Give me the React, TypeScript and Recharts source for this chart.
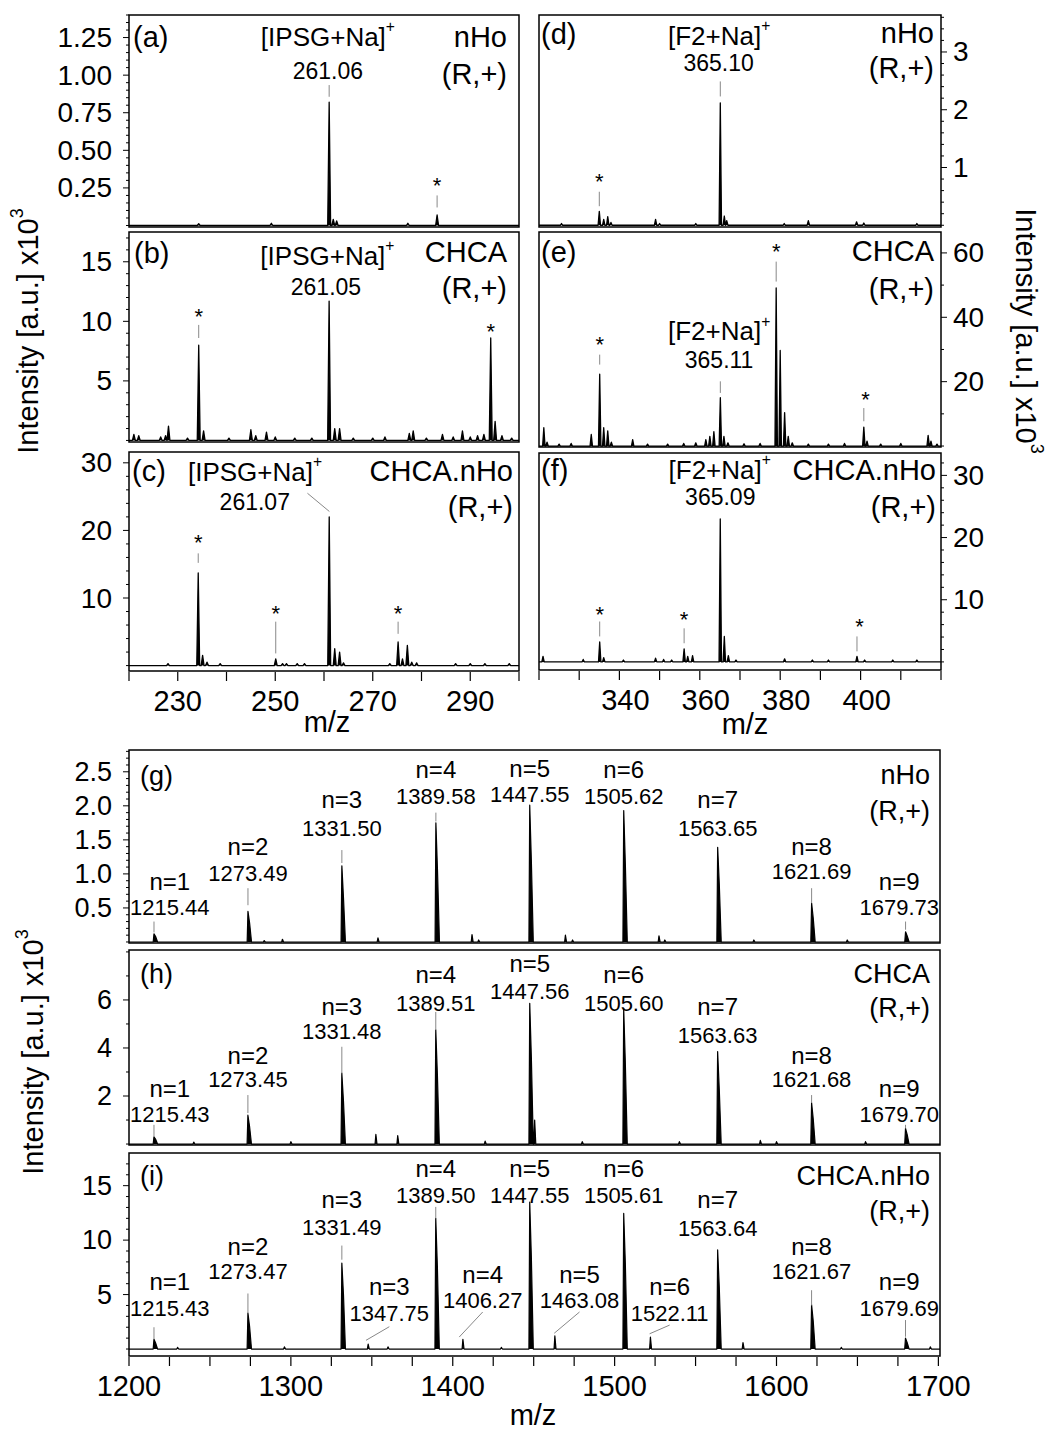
import React from "react";
import { ComposedChart, Area, XAxis, YAxis, ReferenceArea, ReferenceDot, ReferenceLine } from "recharts";

const FONT = "'Liberation Sans', Arial, Helvetica, sans-serif";

// ---- spectra: peak m/z and intensity (x10^3 a.u.) ----

// (a) IPSG, nHo
const aMz = [234.3, 249.2, 261.06, 261.9, 262.6, 277.2, 283.2];
const aInt = [0.012, 0.015, 0.82, 0.04, 0.03, 0.015, 0.07];

// (b) IPSG, CHCA
const bMz = [221.0, 222.0, 226.5, 227.5, 228.1, 232.0, 234.3, 235.3, 240.5, 245.0, 246.0, 248.2, 250.0, 254.0, 257.5, 261.05, 262.2, 263.2, 266.0, 270.0, 272.5, 277.5, 278.3, 281.0, 284.3, 286.5, 288.4, 290.0, 291.5, 292.8, 294.2, 295.1, 296.5, 298.5];
const bInt = [0.5, 0.4, 0.3, 0.4, 1.2, 0.2, 8.0, 0.8, 0.2, 0.9, 0.4, 0.7, 0.3, 0.2, 0.2, 11.7, 1.0, 1.0, 0.2, 0.2, 0.3, 0.6, 0.8, 0.2, 0.5, 0.3, 0.8, 0.3, 0.4, 0.5, 8.6, 1.6, 0.4, 0.2];

// (c) IPSG, CHCA.nHo
const cMz = [228.0, 234.2, 235.1, 236.0, 238.7, 250.1, 251.5, 252.3, 254.5, 256.0, 261.07, 262.2, 263.2, 264.0, 273.5, 275.2, 276.1, 277.1, 278.0, 279.0, 287.0, 290.0, 293.0, 298.0];
const cInt = [0.3, 13.7, 1.5, 0.5, 0.3, 1.0, 0.3, 0.3, 0.3, 0.3, 22.0, 2.5, 2.0, 0.4, 0.3, 3.5, 1.0, 3.0, 0.5, 0.4, 0.3, 0.3, 0.3, 0.3];

// (d) F2, nHo
const dMz = [325.6, 335.0, 336.1, 337.1, 337.9, 349.0, 350.0, 359.0, 365.10, 366.1, 366.7, 381.0, 387.0, 399.0, 400.8, 414.0];
const dInt = [0.03, 0.24, 0.1, 0.15, 0.05, 0.1, 0.03, 0.03, 2.12, 0.16, 0.08, 0.03, 0.08, 0.06, 0.04, 0.03];

// (e) F2, CHCA
const eMz = [321.2, 322.0, 325.0, 328.0, 333.0, 335.1, 336.1, 337.1, 338.0, 343.3, 347.0, 352.0, 356.0, 359.0, 361.5, 362.5, 363.5, 365.11, 366.0, 367.0, 371.0, 375.0, 379.0, 380.0, 381.1, 382.0, 383.0, 387.0, 392.0, 396.0, 400.8, 401.6, 405.0, 410.0, 416.8, 417.5, 419.0];
const eInt = [5.7, 1.2, 0.6, 0.8, 3.6, 22.3, 5.7, 4.7, 1.2, 2.0, 0.6, 0.6, 0.8, 1.0, 2.0, 3.0, 4.5, 15.0, 3.0, 1.0, 0.7, 0.8, 49.1, 29.7, 10.4, 3.0, 1.0, 0.6, 0.6, 0.8, 5.9, 1.5, 0.6, 0.8, 3.3, 1.5, 0.6];

// (f) F2, CHCA.nHo
const fMz = [321.0, 331.0, 335.1, 336.1, 341.0, 349.0, 351.0, 353.0, 356.1, 357.0, 358.2, 365.09, 366.1, 367.1, 369.0, 381.1, 388.0, 392.0, 399.1, 401.0, 408.0, 414.0];
const fInt = [0.9, 0.4, 3.2, 0.7, 0.3, 0.6, 0.4, 0.3, 2.1, 0.9, 1.0, 23.0, 4.1, 1.0, 0.3, 0.5, 0.3, 0.3, 0.9, 0.3, 0.3, 0.3];

// (g)-(i) oligomer series n=1..9 (monoisotopic peak + first isotope shoulder)
const seriesNames = ["n=1", "n=2", "n=3", "n=4", "n=5", "n=6", "n=7", "n=8", "n=9"];

const gMz = [1215.44, 1273.49, 1331.50, 1389.58, 1447.55, 1505.62, 1563.65, 1621.69, 1679.73];
const gInt = [0.12, 0.45, 1.12, 1.75, 2.01, 1.93, 1.39, 0.57, 0.15];
const gIsoMz = [1216.44, 1274.49, 1332.50, 1390.58, 1448.55, 1506.62, 1564.65, 1622.69, 1680.73];
const gIsoInt = [0.08, 0.28, 0.65, 1.05, 1.2, 1.15, 0.85, 0.35, 0.09];
const gMinorMz = [1283.5, 1294.8, 1353.8, 1411.9, 1416.0, 1469.6, 1474.0, 1527.4, 1531.0, 1586.0, 1643.7];
const gMinorInt = [0.02, 0.04, 0.06, 0.11, 0.03, 0.1, 0.03, 0.09, 0.03, 0.03, 0.03];

const hMz = [1215.43, 1273.45, 1331.48, 1389.51, 1447.56, 1505.60, 1563.63, 1621.68, 1679.70];
const hInt = [0.3, 1.2, 2.95, 4.75, 5.86, 5.65, 3.85, 1.72, 0.65];
const hIsoMz = [1216.43, 1274.45, 1332.48, 1390.51, 1448.56, 1506.60, 1564.63, 1622.68, 1680.70];
const hIsoInt = [0.2, 0.75, 1.8, 2.9, 3.6, 3.4, 2.3, 1.05, 0.4];
const hMinorMz = [1240, 1300, 1352.5, 1366.0, 1420, 1450.6, 1480, 1540, 1590, 1600, 1655];
const hMinorInt = [0.08, 0.1, 0.4, 0.35, 0.12, 1.0, 0.1, 0.1, 0.15, 0.1, 0.1];

const iMz = [1215.43, 1273.47, 1331.49, 1389.50, 1447.55, 1505.61, 1563.64, 1621.67, 1679.69];
const iInt = [0.9, 3.3, 7.9, 12.0, 13.5, 12.45, 9.1, 4.05, 1.0];
const iIsoMz = [1216.43, 1274.47, 1332.49, 1390.50, 1448.55, 1506.61, 1564.64, 1622.67, 1680.69];
const iIsoInt = [0.55, 2.1, 5.0, 7.6, 8.5, 7.9, 5.7, 2.6, 0.6];
const iSecMz = [1347.75, 1406.27, 1463.08, 1522.11];
const iSecInt = [0.45, 0.9, 1.2, 1.1];
const iSecNames = ["n=3", "n=4", "n=5", "n=6"];
const iMinorMz = [1230, 1296, 1360, 1430, 1579.3, 1640, 1695];
const iMinorInt = [0.15, 0.2, 0.2, 0.15, 0.6, 0.15, 0.2];

// ---- axis ticks ----
const leftXTicks = [220, 230, 240, 250, 260, 270, 280, 290, 300];
const leftXLabels = [230, 250, 270, 290];
const rightXTicks = [320, 330, 340, 350, 360, 370, 380, 390, 400, 410, 420];
const rightXLabels = [340, 360, 380, 400];
const botXTicks = [1200, 1225, 1250, 1275, 1300, 1325, 1350, 1375, 1400, 1425, 1450, 1475, 1500, 1525, 1550, 1575, 1600, 1625, 1650, 1675, 1700];
const botXLabels = [1200, 1300, 1400, 1500, 1600, 1700];

const aYLabels = [0.25, 0.5, 0.75, 1.0, 1.25];
const bYLabels = [5, 10, 15];
const cYLabels = [10, 20, 30];
const dYLabels = [1, 2, 3];
const eYLabels = [20, 40, 60];
const fYLabels = [10, 20, 30];
const gYLabels = [0.5, 1.0, 1.5, 2.0, 2.5];
const hYLabels = [2, 4, 6];
const iYLabels = [5, 10, 15];

function minorTicks(from: number, to: number, step: number) {
  const out: number[] = [];
  const n = Math.round((to - from) / step);
  for (let i = 0; i <= n; i++) out.push(Math.round((from + i * step) * 1000) / 1000);
  return out;
}

type Pt = { mz: number; v: number };

// stick peaks drawn as narrow triangles on a zero baseline
function profile(mz: number[], inten: number[], hw: number, domain: number[]) {
  const order = mz.map((_, i) => i).sort((p, q) => mz[p] - mz[q]);
  const pts: Pt[] = [{ mz: domain[0], v: 0 }];
  order.forEach((i) => {
    pts.push({ mz: mz[i] - hw, v: 0 }, { mz: mz[i], v: inten[i] }, { mz: mz[i] + hw, v: 0 });
  });
  pts.push({ mz: domain[1], v: 0 });
  return pts;
}

// main peak with its isotope shoulder, plus isolated small peaks
function profileIso(mz: number[], inten: number[], isoMz: number[], isoInt: number[], exMz: number[], exInt: number[], domain: number[]) {
  const shapes: Pt[][] = [];
  mz.forEach((m, i) => {
    shapes.push([
      { mz: m - 0.5, v: 0 },
      { mz: m, v: inten[i] },
      { mz: isoMz[i], v: isoInt[i] },
      { mz: isoMz[i] + 1.2, v: 0 },
    ]);
  });
  exMz.forEach((m, i) => {
    shapes.push([
      { mz: m - 0.5, v: 0 },
      { mz: m, v: exInt[i] },
      { mz: m + 0.7, v: 0 },
    ]);
  });
  shapes.sort((p, q) => p[0].mz - q[0].mz);
  const pts: Pt[] = [{ mz: domain[0], v: 0 }];
  shapes.forEach((s) => pts.push(...s));
  pts.push({ mz: domain[1], v: 0 });
  return pts;
}

type Txt = { x: number; y: number; t: string; fs: number; sup?: string; star?: boolean };
type Seg = { x1: number; y1: number; x2: number; y2: number };
const T = (x: number, y: number, t: string, fs: number, sup?: string): Txt => ({ x, y, t, fs, sup });
const S = (x: number, y: number): Txt => ({ x, y, t: "*", fs: 22, star: true });
const L = (x1: number, y1: number, x2: number, y2: number): Seg => ({ x1, y1, x2, y2 });

// label block for oligomer series: name above m/z value
function seriesLabels(cx: number[], names: string[], vals: number[], nY: number[], vY: number[]) {
  const out: Txt[] = [];
  cx.forEach((x, i) => {
    out.push(T(x, nY[i], names[i], 24));
    out.push(T(x, vY[i], vals[i].toFixed(2), 22));
  });
  return out;
}

function PeakLabel(props: any) {
  const { cx, cy, t, fs, sup, star } = props;
  if (cx == null || cy == null) return <g />;
  if (star) {
    return (
      <text x={cx} y={cy + fs * 0.57} textAnchor="middle" fontSize={fs} fill="#000" fontFamily={FONT}>
        *
      </text>
    );
  }
  return (
    <text x={cx} y={cy} textAnchor="middle" dominantBaseline="central" fontSize={fs} fill="#000" fontFamily={FONT}>
      {t}
      {sup && (
        <tspan dy={-fs * 0.42} fontSize={fs * 0.6}>
          {sup}
        </tspan>
      )}
    </text>
  );
}

function YTick(props: any) {
  const { x, y, payload, labels, right, fmt, fs } = props;
  const v = payload.value;
  const major = labels.some((l: number) => Math.abs(l - v) < 1e-6);
  const len = major ? 6 : 3;
  const d = right ? 1 : -1;
  return (
    <g>
      <line x1={x} y1={y} x2={x + d * len} y2={y} stroke="#000" strokeWidth={1} />
      {major && (
        <text
          x={right ? x + 12 : x - 17}
          y={y}
          textAnchor={right ? "start" : "end"}
          dominantBaseline="central"
          fontSize={fs}
          fill="#000"
          fontFamily={FONT}
        >
          {fmt(v)}
        </text>
      )}
    </g>
  );
}

function XTick(props: any) {
  const { x, y, payload, labels, show, dx } = props;
  if (!show) return <g />;
  const v = payload.value;
  const lab = labels.some((l: number) => Math.abs(l - v) < 1e-6);
  return (
    <g>
      <line x1={x} y1={y + 1} x2={x} y2={y + 10} stroke="#000" strokeWidth={1.2} />
      {lab && (
        <text x={x + dx} y={y + 30} textAnchor="middle" dominantBaseline="central" fontSize={29} fill="#000" fontFamily={FONT}>
          {v}
        </text>
      )}
    </g>
  );
}

type PanelProps = {
  id: string;
  box: { x: number; y: number; w: number; h: number };
  xDomain: number[];
  yDomain: number[];
  data: Pt[];
  xTicks: number[];
  xLabels: number[];
  showX: boolean;
  xDx?: number;
  yTicks: number[];
  yLabels: number[];
  yFmt: (v: number) => string;
  yRight?: boolean;
  yFs: number;
  texts: Txt[];
  segs: Seg[];
  lineW?: number;
};

function Panel(p: PanelProps) {
  const PADL = 130, PADR = 90, PADT = 10, PADB = 70;
  const W = p.box.w + PADL + PADR;
  const H = p.box.h + PADT + PADB;
  return (
    <div style={{ position: "absolute", left: p.box.x - PADL, top: p.box.y - PADT }}>
      <ComposedChart
        width={W}
        height={H}
        data={p.data}
        margin={{ top: PADT, bottom: 0, left: p.yRight ? PADL : 0, right: p.yRight ? 0 : PADR }}
      >
        <XAxis
          dataKey="mz"
          type="number"
          domain={p.xDomain}
          allowDataOverflow
          ticks={p.xTicks}
          interval={0}
          height={PADB}
          axisLine={false}
          tickLine={false}
          tickSize={0}
          tickMargin={0}
          tick={(tp: any) => <XTick {...tp} labels={p.xLabels} show={p.showX} dx={p.xDx ?? 0} />}
        />
        <YAxis
          type="number"
          domain={p.yDomain}
          allowDataOverflow
          orientation={p.yRight ? "right" : "left"}
          width={p.yRight ? PADR : PADL}
          ticks={p.yTicks}
          interval={0}
          axisLine={false}
          tickLine={false}
          tickSize={0}
          tickMargin={0}
          tick={(tp: any) => <YTick {...tp} labels={p.yLabels} right={p.yRight} fmt={p.yFmt} fs={p.yFs} />}
        />
        <Area
          dataKey="v"
          type="linear"
          baseValue={0}
          dot={false}
          activeDot={false}
          stroke="#000"
          strokeWidth={p.lineW ?? 1.3}
          strokeLinejoin="round"
          fill="#000"
          fillOpacity={1}
          isAnimationActive={false}
        />
        <ReferenceArea
          x1={p.xDomain[0]}
          x2={p.xDomain[1]}
          y1={p.yDomain[0]}
          y2={p.yDomain[1]}
          fill="none"
          fillOpacity={0}
          stroke="#000"
          strokeWidth={1.5}
        />
        {p.segs.map((s, i) => (
          <ReferenceLine
            key={"s" + i}
            segment={[
              { x: s.x1, y: s.y1 },
              { x: s.x2, y: s.y2 },
            ]}
            stroke="#888"
            strokeWidth={1}
          />
        ))}
        {p.texts.map((t, i) => (
          <ReferenceDot
            key={"t" + i}
            x={t.x}
            y={t.y}
            r={0}
            shape={(dp: any) => <PeakLabel cx={dp.cx} cy={dp.cy} {...t} />}
          />
        ))}
      </ComposedChart>
    </div>
  );
}

const LEFT_X = [220, 300];
const RIGHT_X = [320, 420];
const BOT_X = [1200, 1701];
const int0 = (v: number) => String(v);

const panels: PanelProps[] = [
  {
    id: "a",
    box: { x: 129, y: 15, w: 390, h: 212 },
    xDomain: LEFT_X,
    yDomain: [-0.01, 1.4],
    data: profile(aMz, aInt, 0.3, LEFT_X),
    xTicks: leftXTicks, xLabels: leftXLabels, showX: false,
    yTicks: minorTicks(0, 1.4, 0.05), yLabels: aYLabels, yFmt: (v) => v.toFixed(2), yFs: 28,
    texts: [T(260.8, 1.253, "[IPSG+Na]", 26, "+"), T(260.8, 1.027, "261.06", 23), S(283.2, 0.3)],
    segs: [L(261.06, 0.934, 261.06, 0.856), L(283.2, 0.2, 283.2, 0.12)],
  },
  {
    id: "b",
    box: { x: 129, y: 232, w: 390, h: 210 },
    xDomain: LEFT_X,
    yDomain: [-0.13, 17.5],
    data: profile(bMz, bInt, 0.3, LEFT_X),
    xTicks: leftXTicks, xLabels: leftXLabels, showX: false,
    yTicks: minorTicks(0, 17, 1), yLabels: bYLabels, yFmt: int0, yFs: 28,
    texts: [T(260.7, 15.45, "[IPSG+Na]", 26, "+"), T(260.4, 12.9, "261.05", 23), S(234.3, 10.8), S(294.2, 9.6)],
    segs: [L(234.3, 9.7, 234.3, 8.6)],
  },
  {
    id: "c",
    box: { x: 129, y: 452, w: 390, h: 219 },
    xDomain: LEFT_X,
    yDomain: [-0.8, 31.6],
    data: profile(cMz, cInt, 0.3, LEFT_X),
    xTicks: leftXTicks, xLabels: leftXLabels, showX: true,
    yTicks: minorTicks(0, 30, 2), yLabels: cYLabels, yFmt: int0, yFs: 28,
    texts: [
      T(245.85, 28.7, "[IPSG+Na]", 26, "+"),
      T(245.8, 24.2, "261.07", 23),
      S(234.2, 19.0),
      S(250.1, 8.4),
      S(275.2, 8.4),
    ],
    segs: [L(256.6, 25.5, 261.1, 22.8), L(234.2, 16.6, 234.2, 15.2), L(250.1, 6.5, 250.1, 1.8), L(275.2, 6.5, 275.2, 4.7)],
  },
  {
    id: "d",
    box: { x: 539, y: 15, w: 402, h: 212 },
    xDomain: RIGHT_X,
    yDomain: [-0.03, 3.64],
    data: profile(dMz, dInt, 0.3, RIGHT_X),
    xTicks: rightXTicks, xLabels: rightXLabels, showX: false,
    yTicks: minorTicks(0, 3.6, 0.2), yLabels: dYLabels, yFmt: int0, yRight: true, yFs: 28,
    texts: [T(364.8, 3.27, "[F2+Na]", 26, "+"), T(364.7, 2.81, "365.10", 23), S(335.0, 0.84)],
    segs: [L(365.1, 2.49, 365.1, 2.23), L(335.0, 0.58, 335.0, 0.33)],
  },
  {
    id: "e",
    box: { x: 539, y: 232, w: 402, h: 215 },
    xDomain: RIGHT_X,
    yDomain: [-0.3, 66.5],
    data: profile(eMz, eInt, 0.3, RIGHT_X),
    xTicks: rightXTicks, xLabels: rightXLabels, showX: false,
    yTicks: minorTicks(0, 60, 10), yLabels: eYLabels, yFmt: int0, yRight: true, yFs: 28,
    texts: [
      T(364.8, 35.6, "[F2+Na]", 26, "+"),
      T(364.8, 26.8, "365.11", 23),
      S(335.1, 33.0),
      S(379.0, 62.0),
      S(401.2, 16.0),
    ],
    segs: [L(365.11, 20.1, 365.11, 16.5), L(335.1, 28.4, 335.1, 25.3), L(379.0, 57.3, 379.0, 51.1), L(400.8, 11.8, 400.8, 7.7)],
  },
  {
    id: "f",
    box: { x: 539, y: 453, w: 402, h: 217 },
    xDomain: RIGHT_X,
    yDomain: [-1.3, 33.6],
    data: profile(fMz, fInt, 0.3, RIGHT_X),
    xTicks: rightXTicks, xLabels: rightXLabels, showX: true, xDx: 6,
    yTicks: minorTicks(0, 32, 2), yLabels: fYLabels, yFmt: int0, yRight: true, yFs: 28,
    texts: [
      T(364.95, 30.9, "[F2+Na]", 26, "+"),
      T(365.1, 26.6, "365.09", 23),
      S(335.1, 8.4),
      S(356.1, 7.6),
      S(399.75, 6.5),
    ],
    segs: [L(335.1, 6.5, 335.1, 4.1), L(356.1, 5.4, 356.1, 3.0), L(399.1, 4.1, 399.1, 1.7)],
  },
  {
    id: "g",
    box: { x: 129, y: 750, w: 811, h: 193 },
    xDomain: BOT_X,
    yDomain: [-0.015, 2.82],
    data: profileIso(gMz, gInt, gIsoMz, gIsoInt, gMinorMz, gMinorInt, BOT_X),
    xTicks: botXTicks, xLabels: botXLabels, showX: false,
    yTicks: minorTicks(0, 2.8, 0.1), yLabels: gYLabels, yFmt: (v) => v.toFixed(1), yFs: 27,
    lineW: 1.2,
    texts: seriesLabels(
      [1225.2, 1273.49, 1331.5, 1389.58, 1447.55, 1505.62, 1563.65, 1621.69, 1675.8],
      seriesNames,
      gMz,
      [0.89, 1.4, 2.09, 2.53, 2.55, 2.53, 2.09, 1.4, 0.89],
      [0.5, 1.01, 1.67, 2.14, 2.16, 2.14, 1.67, 1.03, 0.5]
    ),
    segs: [
      L(1215.44, 0.3, 1215.44, 0.14),
      L(1273.49, 0.79, 1273.49, 0.54),
      L(1331.5, 1.35, 1331.5, 1.16),
      L(1389.58, 1.9, 1389.58, 1.77),
      L(1621.69, 0.79, 1621.69, 0.57),
      L(1679.73, 0.3, 1679.73, 0.18),
    ],
  },
  {
    id: "h",
    box: { x: 129, y: 950, w: 811, h: 195 },
    xDomain: BOT_X,
    yDomain: [-0.04, 8.08],
    data: profileIso(hMz, hInt, hIsoMz, hIsoInt, hMinorMz, hMinorInt, BOT_X),
    xTicks: botXTicks, xLabels: botXLabels, showX: false,
    yTicks: minorTicks(0, 8, 1), yLabels: hYLabels, yFmt: int0, yFs: 27,
    lineW: 1.2,
    texts: seriesLabels(
      [1225.2, 1273.45, 1331.48, 1389.51, 1447.56, 1505.6, 1563.63, 1621.68, 1675.8],
      seriesNames,
      hMz,
      [2.32, 3.7, 5.72, 7.04, 7.53, 7.04, 5.72, 3.7, 2.32],
      [1.24, 2.67, 4.68, 5.87, 6.35, 5.87, 4.54, 2.67, 1.24]
    ),
    segs: [
      L(1215.43, 0.8, 1215.43, 0.32),
      L(1273.45, 2.04, 1273.45, 1.29),
      L(1331.48, 4.05, 1331.48, 2.95),
      L(1389.51, 5.5, 1389.51, 4.75),
      L(1621.68, 2.04, 1621.68, 1.72),
      L(1679.7, 0.8, 1679.7, 0.65),
    ],
  },
  {
    id: "i",
    box: { x: 129, y: 1153, w: 811, h: 203 },
    xDomain: BOT_X,
    yDomain: [-0.64, 18],
    data: profileIso(iMz, iInt, iIsoMz, iIsoInt, iSecMz.concat(iMinorMz), iSecInt.concat(iMinorInt), BOT_X),
    xTicks: botXTicks, xLabels: botXLabels, showX: true,
    yTicks: minorTicks(0, 17, 1), yLabels: iYLabels, yFmt: int0, yFs: 27,
    lineW: 1.2,
    texts: seriesLabels(
      [1225.2, 1273.47, 1331.49, 1389.5, 1447.55, 1505.61, 1563.64, 1621.67, 1675.8],
      seriesNames,
      iMz,
      [6.2, 9.45, 13.7, 16.6, 16.6, 16.6, 13.7, 9.45, 6.2],
      [3.7, 7.1, 11.2, 14.1, 14.1, 14.1, 11.1, 7.1, 3.7]
    ).concat(
      seriesLabels([1360.8, 1418.5, 1478.3, 1534], iSecNames, iSecMz, [5.7, 6.85, 6.85, 5.7], [3.3, 4.5, 4.5, 3.3])
    ),
    segs: [
      L(1215.43, 2.0, 1215.43, 0.9),
      L(1273.47, 5.1, 1273.47, 3.3),
      L(1331.49, 9.5, 1331.49, 8.2),
      L(1389.5, 13.05, 1389.5, 12.0),
      L(1621.67, 5.4, 1621.67, 4.0),
      L(1679.69, 2.66, 1679.69, 1.13),
      L(1360.8, 2.05, 1346.4, 0.8),
      L(1418.5, 3.4, 1404.0, 1.1),
      L(1478.3, 3.4, 1462.7, 1.45),
      L(1534.0, 2.2, 1521.6, 1.4),
    ],
  },
];

// panel letters and sample names (page coordinates, vertical centre)
const cornerText = [
  { x: 133, y: 37, t: "(a)", a: "start", fs: 29 },
  { x: 507, y: 37, t: "nHo", a: "end", fs: 29 },
  { x: 507, y: 74, t: "(R,+)", a: "end", fs: 29 },
  { x: 134, y: 253, t: "(b)", a: "start", fs: 29 },
  { x: 507, y: 252, t: "CHCA", a: "end", fs: 29 },
  { x: 507, y: 288, t: "(R,+)", a: "end", fs: 29 },
  { x: 132, y: 471, t: "(c)", a: "start", fs: 29 },
  { x: 513, y: 471, t: "CHCA.nHo", a: "end", fs: 29 },
  { x: 513, y: 507, t: "(R,+)", a: "end", fs: 29 },
  { x: 541, y: 34, t: "(d)", a: "start", fs: 29 },
  { x: 934, y: 33, t: "nHo", a: "end", fs: 29 },
  { x: 934, y: 68, t: "(R,+)", a: "end", fs: 29 },
  { x: 541, y: 252, t: "(e)", a: "start", fs: 29 },
  { x: 934, y: 251, t: "CHCA", a: "end", fs: 29 },
  { x: 934, y: 289, t: "(R,+)", a: "end", fs: 29 },
  { x: 541, y: 470, t: "(f)", a: "start", fs: 29 },
  { x: 936, y: 470, t: "CHCA.nHo", a: "end", fs: 29 },
  { x: 936, y: 507, t: "(R,+)", a: "end", fs: 29 },
  { x: 140, y: 776, t: "(g)", a: "start", fs: 27 },
  { x: 930, y: 775, t: "nHo", a: "end", fs: 27 },
  { x: 930, y: 811, t: "(R,+)", a: "end", fs: 27 },
  { x: 140, y: 974, t: "(h)", a: "start", fs: 27 },
  { x: 930, y: 974, t: "CHCA", a: "end", fs: 27 },
  { x: 930, y: 1008, t: "(R,+)", a: "end", fs: 27 },
  { x: 140, y: 1176, t: "(i)", a: "start", fs: 27 },
  { x: 930, y: 1176, t: "CHCA.nHo", a: "end", fs: 27 },
  { x: 930, y: 1211, t: "(R,+)", a: "end", fs: 27 },
];

const mzTitles = [
  { x: 327, y: 722 },
  { x: 745, y: 724 },
  { x: 533, y: 1415 },
];

const intensityTitles = [
  { x: 28, y: 331, rot: -90 },
  { x: 1026, y: 331, rot: 90 },
  { x: 33, y: 1052, rot: -90 },
];

export default function App() {
  return (
    <div
      style={{
        position: "absolute",
        left: 0,
        top: 0,
        width: 1046,
        height: 1432,
        background: "#fff",
        fontFamily: FONT,
        overflow: "hidden",
      }}
    >
      {panels.map((p) => (
        <Panel key={p.id} {...p} />
      ))}
      <svg
        width={1046}
        height={1432}
        style={{ position: "absolute", left: 0, top: 0, pointerEvents: "none" }}
        fontFamily={FONT}
      >
        {cornerText.map((c, i) => (
          <text key={i} x={c.x} y={c.y} textAnchor={c.a as any} dominantBaseline="central" fontSize={c.fs} fill="#000">
            {c.t}
          </text>
        ))}
        {mzTitles.map((m, i) => (
          <text key={"m" + i} x={m.x} y={m.y} textAnchor="middle" dominantBaseline="central" fontSize={29} fill="#000">
            m/z
          </text>
        ))}
        {intensityTitles.map((t, i) => (
          <text
            key={"y" + i}
            transform={`translate(${t.x},${t.y}) rotate(${t.rot})`}
            textAnchor="middle"
            dominantBaseline="central"
            fontSize={29}
            fill="#000"
          >
            Intensity [a.u.] x10
            <tspan dy={-11} fontSize={18}>
              3
            </tspan>
          </text>
        ))}
      </svg>
    </div>
  );
}
